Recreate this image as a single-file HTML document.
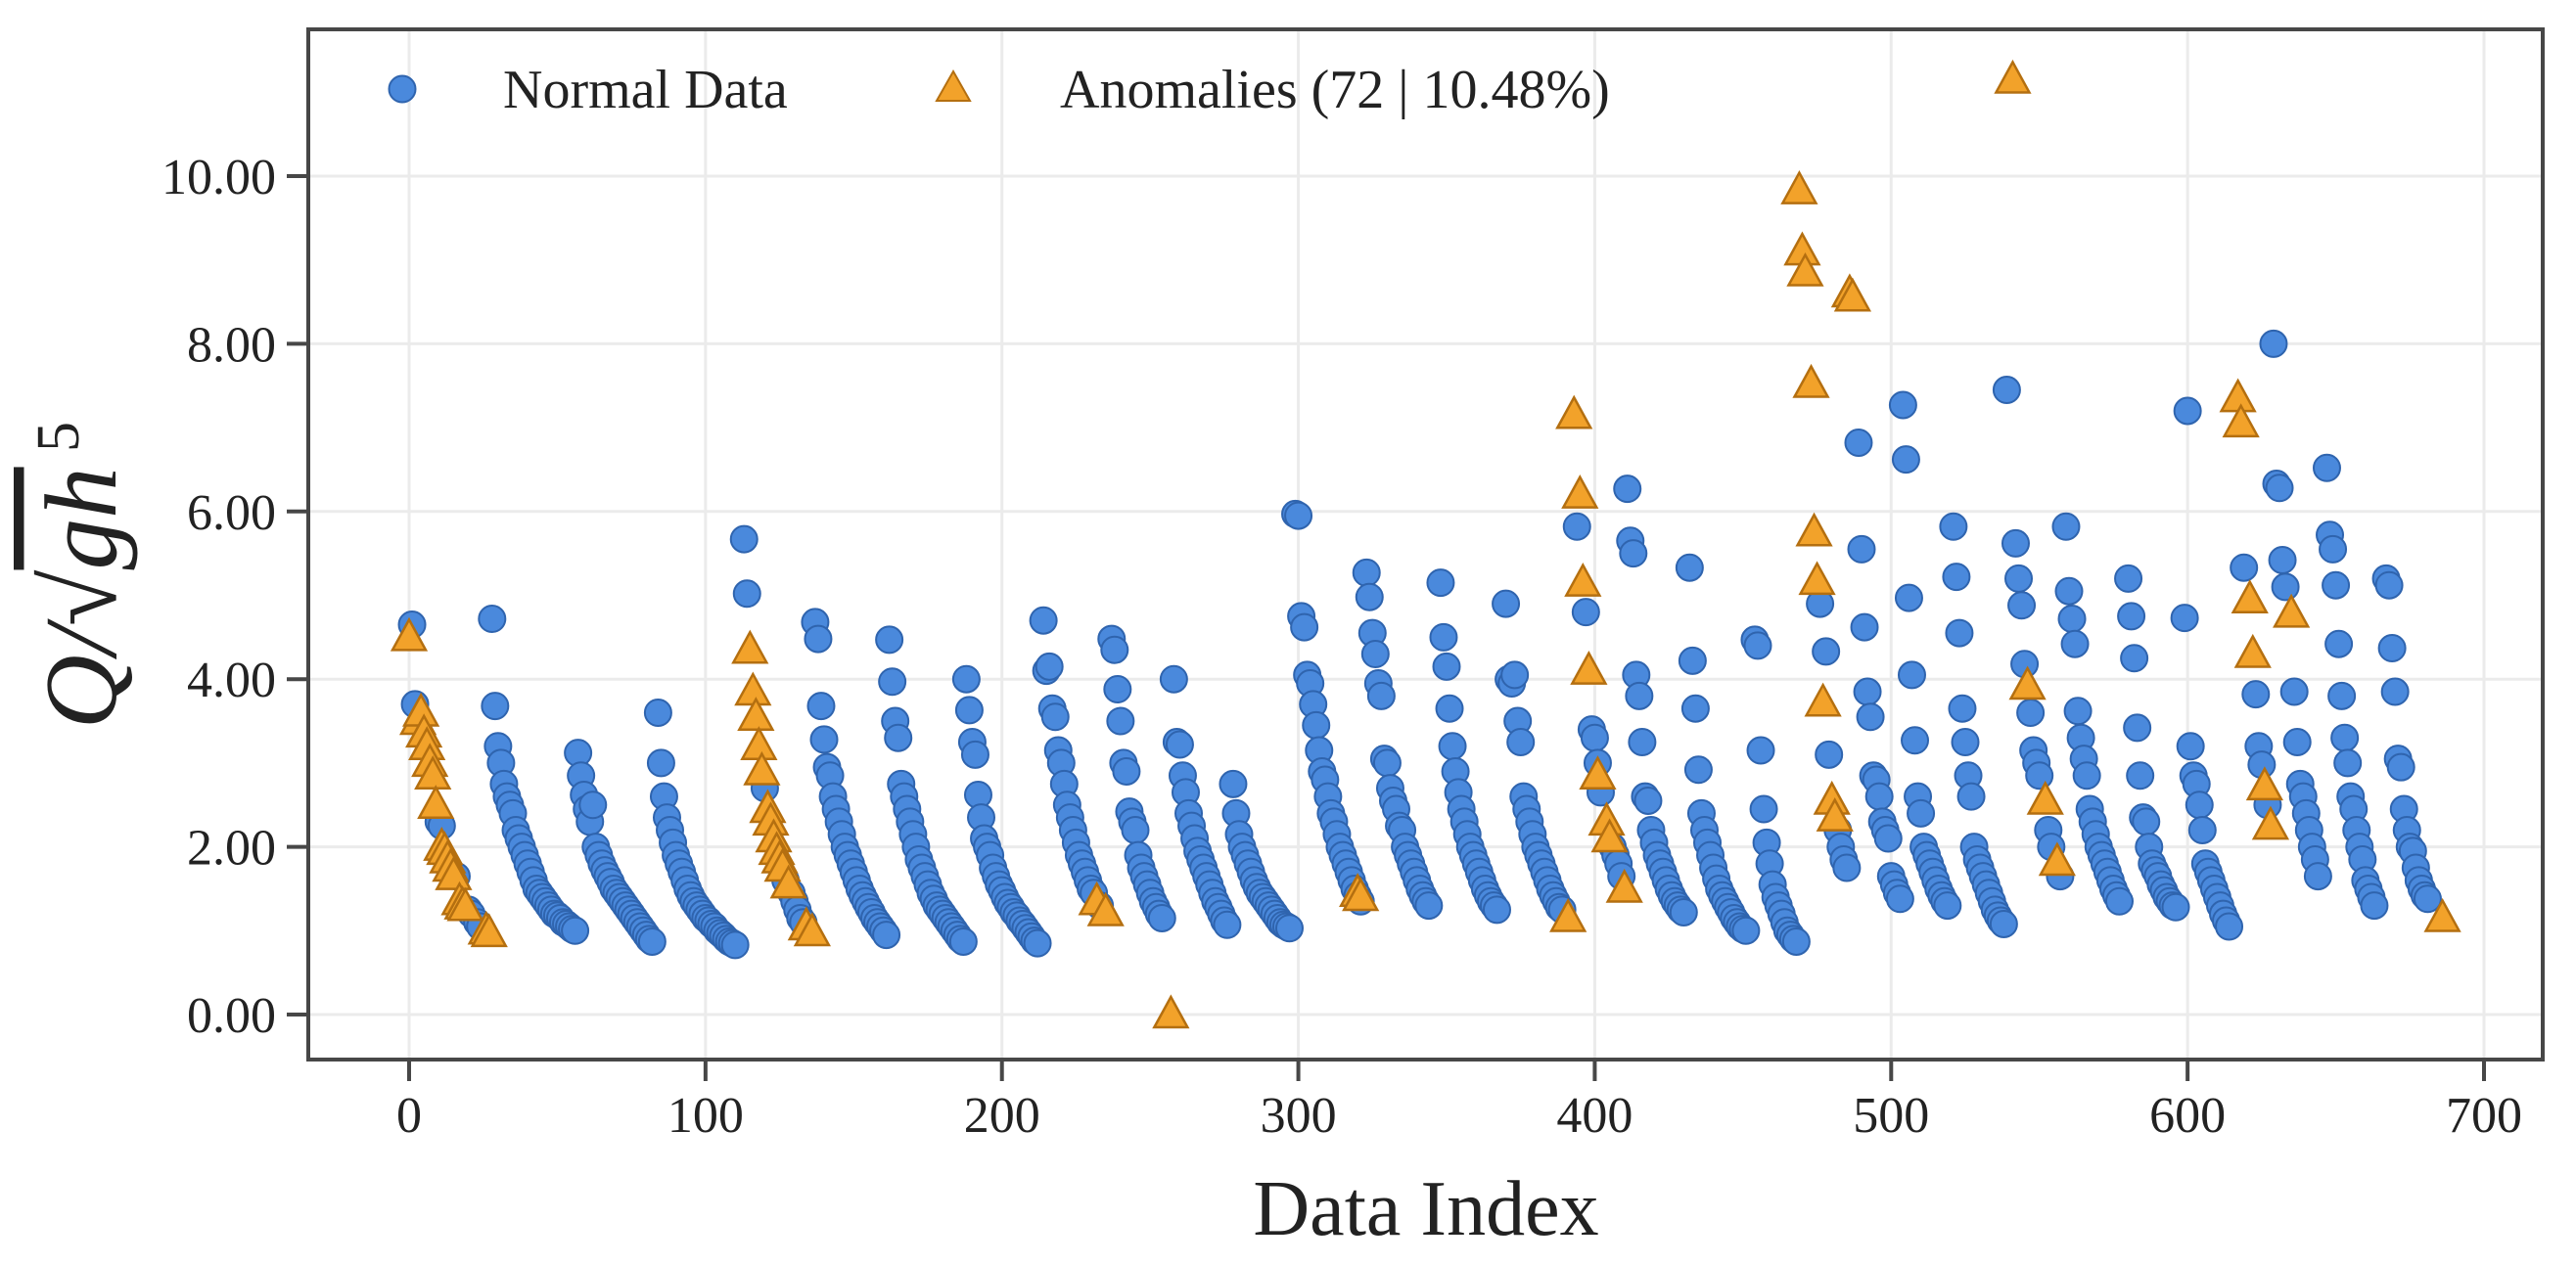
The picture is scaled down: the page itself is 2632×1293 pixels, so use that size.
<!DOCTYPE html>
<html>
<head>
<meta charset="utf-8">
<style>
  html, body { margin: 0; padding: 0; background: #ffffff; }
  svg { display: block; }
  text { font-family: "Liberation Serif", "DejaVu Serif", serif; fill: #222; }
</style>
</head>
<body>
<svg id="chart" width="2632" height="1293" viewBox="0 0 2632 1293" xmlns="http://www.w3.org/2000/svg">
  <rect x="0" y="0" width="2632" height="1293" fill="#ffffff"/>
  <g id="grid"></g>
  <g id="normal"></g>
  <g id="anom"></g>
  <rect x="315" y="30" width="2283" height="1053" fill="none" stroke="#474747" stroke-width="4"/>
  <g id="axes"></g>
  <g>
    <circle cx="411" cy="91" r="13.5" fill="#4A89DC" stroke="#2F64AE" stroke-width="2"/>
    <text x="514" y="110" font-size="56">Normal Data</text>
    <polygon points="974,73 991,103 957,103" fill="#F2A22A" stroke="#B46F10" stroke-width="2"/>
    <text x="1083" y="110" font-size="56">Anomalies (72 | 10.48%)</text>
  </g>
  <text x="1457" y="1262" font-size="80" text-anchor="middle">Data Index</text>
  <text transform="translate(118,588) rotate(-90)" font-size="105" text-anchor="middle" font-style="italic">Q/√<tspan text-decoration="overline">gh</tspan><tspan dy="-38" font-size="62" font-style="normal"> 5</tspan></text>
</svg>
<script>
const xTicks = [0, 100, 200, 300, 400, 500, 600, 700];
const yTicks = [0, 2, 4, 6, 8, 10];
const yTickLabels = ["0.00", "2.00", "4.00", "6.00", "8.00", "10.00"];

const normalStarts = [1, 10, 16, 20, 23, 28, 57, 84, 113, 120, 127, 129, 137, 162, 188, 214, 233, 237, 258, 278, 299, 323, 348, 370, 394, 397, 399, 402, 406, 411, 432, 454, 476, 478, 482, 489, 504, 521, 539, 542, 547, 553, 557, 559, 580, 599, 619, 623, 627, 629, 636, 647, 667];
const normalValues = [
  [4.65, 3.7], [2.3, 2.25], [1.65], [1.25, 1.2], [1.1, 1.05],
  [4.72,3.68,3.2,3.0,2.75,2.6,2.5,2.4,2.2,2.1,2.0,1.9,1.8,1.7,1.6,1.5,1.45,1.4,1.35,1.3,1.25,1.2,1.18,1.15,1.1,1.08,1.05,1.02,1.0],
  [3.12,2.85,2.62,2.45,2.3,2.5,2.0,1.9,1.8,1.72,1.65,1.58,1.5,1.45,1.4,1.35,1.3,1.25,1.2,1.15,1.1,1.05,1.0,0.95,0.9,0.87],
  [3.6,3.0,2.6,2.35,2.2,2.05,1.9,1.8,1.7,1.6,1.5,1.42,1.35,1.3,1.25,1.2,1.15,1.12,1.08,1.05,1.0,0.97,0.94,0.9,0.87,0.85,0.83],
  [5.67, 5.02], [2.7], [1.6], [1.45,1.35,1.25,1.15,1.1],
  [4.68,4.48,3.68,3.28,2.95,2.85,2.6,2.45,2.3,2.15,2.0,1.9,1.8,1.7,1.6,1.5,1.42,1.35,1.28,1.22,1.15,1.1,1.05,1.0,0.95],
  [4.47,3.97,3.5,3.3,2.75,2.6,2.45,2.3,2.15,2.0,1.85,1.75,1.65,1.55,1.45,1.38,1.3,1.25,1.2,1.15,1.1,1.05,1.0,0.95,0.9,0.87],
  [4.0,3.63,3.25,3.1,2.62,2.35,2.1,2.0,1.9,1.75,1.65,1.55,1.48,1.4,1.33,1.28,1.22,1.18,1.12,1.08,1.03,0.98,0.93,0.88,0.85],
  [4.7,4.1,4.15,3.65,3.55,3.15,3.0,2.75,2.5,2.35,2.2,2.05,1.9,1.8,1.7,1.6,1.5,1.45],
  [1.3],
  [4.48,4.35,3.88,3.5,3.0,2.9,2.42,2.3,2.2,1.9,1.75,1.65,1.55,1.45,1.35,1.28,1.2,1.15],
  [4.0,3.25,3.22,2.85,2.65,2.4,2.25,2.1,1.95,1.85,1.75,1.65,1.55,1.45,1.35,1.28,1.2,1.12,1.07],
  [2.75,2.4,2.15,2.0,1.9,1.8,1.7,1.6,1.52,1.45,1.4,1.35,1.3,1.25,1.2,1.15,1.1,1.07,1.05,1.03],
  [5.97,5.95,4.75,4.62,4.05,3.95,3.7,3.45,3.15,2.9,2.8,2.6,2.4,2.3,2.15,2.0,1.9,1.8,1.7,1.6,1.5,1.42,1.35],
  [5.27,4.98,4.55,4.3,3.95,3.8,3.05,3.0,2.7,2.55,2.45,2.25,2.2,2.0,1.9,1.8,1.7,1.6,1.5,1.42,1.35,1.3],
  [5.15,4.5,4.15,3.65,3.2,2.9,2.65,2.45,2.3,2.15,2.0,1.9,1.8,1.7,1.6,1.5,1.42,1.35,1.3,1.25],
  [4.9,4.0,3.95,4.05,3.5,3.25,2.6,2.45,2.3,2.15,2.0,1.9,1.8,1.7,1.6,1.5,1.42,1.35,1.28,1.25],
  [5.82], [4.8], [3.4,3.3,3.0], [2.65], [2.0,1.9,1.8,1.65],
  [6.27,5.65,5.5,4.05,3.8,3.25,2.6,2.55,2.2,2.05,1.9,1.8,1.7,1.6,1.5,1.42,1.35,1.3,1.25,1.22],
  [5.33,4.22,3.65,2.92,2.4,2.2,2.05,1.9,1.75,1.62,1.5,1.42,1.35,1.28,1.22,1.15,1.1,1.05,1.02,1.0],
  [4.47,4.4,3.15,2.45,2.05,1.8,1.55,1.4,1.3,1.2,1.1,1.0,0.95,0.9,0.87],
  [4.9], [4.33,3.1], [2.2,2.0,1.85,1.75],
  [6.82,5.55,4.62,3.85,3.55,2.85,2.8,2.6,2.3,2.2,2.1,1.65,1.55,1.45,1.38],
  [7.27,6.62,4.97,4.05,3.27,2.6,2.4,2.0,1.9,1.8,1.7,1.6,1.5,1.42,1.35,1.3],
  [5.82,5.22,4.55,3.65,3.25,2.85,2.6,2.0,1.85,1.75,1.65,1.55,1.45,1.35,1.25,1.18,1.12,1.08],
  [7.45], [5.62,5.2,4.88,4.18], [3.6,3.15,3.0,2.85], [2.2,2.0], [1.65],
  [5.82,5.05,4.72,4.42,3.62,3.3,3.05,2.85,2.45,2.3,2.15,2.0,1.9,1.8,1.7,1.6,1.5,1.42,1.35],
  [5.2,4.75,4.25,3.42,2.85,2.35,2.3,2.0,1.8,1.72,1.65,1.55,1.48,1.4,1.35,1.3,1.28],
  [4.73,7.2,3.2,2.85,2.75,2.5,2.2,1.8,1.7,1.6,1.5,1.4,1.3,1.2,1.12,1.05],
  [5.33], [3.82,3.2,2.98], [2.5], [8.0,6.33,6.28,5.42,5.1],
  [3.85,3.25,2.75,2.6,2.4,2.2,2.0,1.85,1.65],
  [6.52,5.72,5.55,5.12,4.42,3.8,3.3,3.0,2.6,2.45,2.2,2.0,1.85,1.6,1.5,1.4,1.3],
  [5.2,5.12,4.37,3.85,3.05,2.95,2.45,2.2,2.0,1.95,1.75,1.6,1.5,1.42,1.38]
];

const anomalyIdx = [0,3,4,5,6,7,8,9,11,12,13,14,15,17,18,19,26,27,
  115,116,117,118,119,121,122,123,124,125,126,128,134,136,
  232,235,257,320,321,
  391,393,395,396,398,401,404,405,410,
  469,470,471,473,474,475,477,480,481,486,487,
  541,546,552,556,
  617,618,621,622,626,628,635,
  686];
const anomalyVal = [4.5,3.5,3.6,3.35,3.2,3.0,2.85,2.5,2.0,1.95,1.85,1.75,1.65,1.35,1.3,1.28,1.0,0.97,
  4.35,3.85,3.55,3.2,2.9,2.45,2.3,2.1,1.95,1.85,1.75,1.55,1.05,0.98,
  1.35,1.22,0.0,1.45,1.4,
  1.15,7.15,6.2,5.15,4.1,2.85,2.3,2.1,1.5,
  9.83,9.1,8.85,7.52,5.75,5.17,3.72,2.55,2.35,8.6,8.55,
  11.15,3.92,2.55,1.82,
  7.35,7.05,4.95,4.3,2.72,2.25,4.78,
  1.15];

const X0 = 418, XS = (2538 - 418) / 700;
const Y0 = 1037, YS = (1037 - 180) / 10;
function xPos(i) { return X0 + i * XS; }
function yPos(v) { return Y0 - v * YS; }

const NS = "http://www.w3.org/2000/svg";
function mk(tag, attrs) {
  const e = document.createElementNS(NS, tag);
  for (const k in attrs) e.setAttribute(k, attrs[k]);
  return e;
}
const grid = document.getElementById('grid');
const axes = document.getElementById('axes');
const normal = document.getElementById('normal');
const anom = document.getElementById('anom');

xTicks.forEach(function (t) {
  const gx = mk('line', {x1: xPos(t), x2: xPos(t), y1: 30, y2: 1083, stroke: '#ebebeb', 'stroke-width': 3});
  
  
  grid.appendChild(gx);
  const tk = mk('line', {x1: xPos(t), x2: xPos(t), y1: 1083, y2: 1105, stroke: '#474747', 'stroke-width': 4});
  
  
  axes.appendChild(tk);
  const lb = mk('text', {x: xPos(t), y: 1157, 'font-size': 52, 'text-anchor': 'middle'});
  lb.textContent = String(t);
  
  
  axes.appendChild(lb);
});
yTicks.forEach(function (t, k) {
  const gy = mk('line', {x1: 315, x2: 2598, y1: yPos(t), y2: yPos(t), stroke: '#ebebeb', 'stroke-width': 3});
  
  
  grid.appendChild(gy);
  const tk = mk('line', {x1: 293, x2: 315, y1: yPos(t), y2: yPos(t), stroke: '#474747', 'stroke-width': 4});
  
  
  axes.appendChild(tk);
  const lb = mk('text', {x: 282, y: yPos(t) + 18, 'font-size': 52, 'text-anchor': 'end'});
  lb.textContent = yTickLabels[k];
  
  
  axes.appendChild(lb);
});

normalStarts.forEach(function (s, k) {
  normalValues[k].forEach(function (v, j) {
    const c = mk('circle', {cx: xPos(s + j), cy: yPos(v), r: 13.5, fill: '#4A89DC', stroke: '#2F64AE', 'stroke-width': 2});
    
    
    normal.appendChild(c);
  });
});
anomalyIdx.forEach(function (i, k) {
  const x = xPos(i), y = yPos(anomalyVal[k]);
  const p = mk('polygon', {points: x + ',' + (y - 18) + ' ' + (x + 17) + ',' + (y + 13) + ' ' + (x - 17) + ',' + (y + 13), fill: '#F2A22A', stroke: '#B46F10', 'stroke-width': 2.5});
  
  
  anom.appendChild(p);
});
</script>
</body>
</html>
